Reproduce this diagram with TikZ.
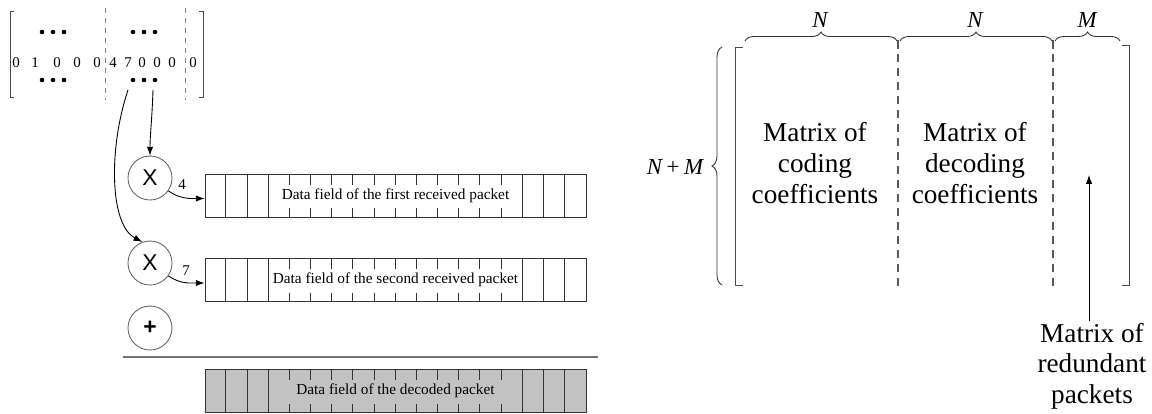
\documentclass[tikz,border=0pt]{standalone}
\usepackage{fontspec}
\setmainfont{Liberation Serif}
\newfontfamily\opfont{Liberation Sans}
\usetikzlibrary{arrows.meta,calc,decorations.pathreplacing}

\tikzset{
    op/.style={draw=black!60, circle, minimum size=0.88cm, inner sep=0pt,
        font=\opfont\fontsize{13}{15}\selectfont},
    packet/.style={draw=black!80, minimum width=7.62cm, minimum height=0.86cm,
        inner sep=0pt, font=\fontsize{8.7}{10}\selectfont},
    cell/.style={black!80},
    entry/.style={inner sep=0pt, font=\fontsize{8.5}{10}\selectfont},
    coef/.style={inner sep=0pt, font=\fontsize{8.5}{10}\selectfont},
    arr/.style={-{Latex[length=5pt,width=3.6pt]}},
    bracket/.style={black!70},
    sep/.style={black!65, line width=0.7pt, dash pattern=on 0.17cm off 0.11cm},
    brace/.style={black!80, decorate, decoration={brace, amplitude=#1}},
    lbl/.style={align=center, inner sep=1pt, font=\fontsize{15.5}{17.4}\selectfont},
    dim/.style={inner sep=0pt, font=\fontsize{13}{15}\selectfont\itshape}
}

\begin{document}
\begin{tikzpicture}[x=0.02cm, y=-0.02cm, line width=0.5pt]
    \useasboundingbox (0,0) rectangle (1152,413);

    % Coefficient row of the matrix
    \draw[bracket] (14,11) -- (10,11) -- (10,97) -- (14,97);
    \draw[bracket] (199,11) -- (203,11) -- (203,97) -- (199,97);
    \draw[black!50, dash pattern=on 0.1cm off 0.1cm] (105,8) -- (105,100);
    \draw[black!50, dash pattern=on 0.1cm off 0.1cm] (185,8) -- (185,100);
    \foreach \x/\d in {16/0,35/1,57/0,77/0,97/0,113/4,128/7,142/0,157/0,172/0,193/0} {
        \node[entry] (e\x) at (\x,63) {\d};
    }
    \foreach \cx in {53,144} {
        \foreach \cy in {32,80} {
            \foreach \k in {-11,0,11} {
                \fill (\cx+\k,\cy) circle (1.3pt);
            }
        }
    }

    % Multipliers and the adder
    \node[op] (mulA) at (150,178) {X};
    \node[op] (mulB) at (150,263) {X};
    \node[op] (add) at (150,328) {\textbf{+}};

    % Packets
    \node[packet] (first) at (395.5,195.5) {Data field of the first received packet};
    \node[packet] (second) at (395.5,280) {Data field of the second received packet};
    \node[packet, fill=gray!48] (decoded) at (395.5,391) {Data field of the decoded packet};
    \foreach \b in {first,second,decoded} {
        \foreach \i in {1,2,3,15,16,17} {
            \draw[cell] ($(\b.north west)+(\i*21.17,0)$) -- ($(\b.south west)+(\i*21.17,0)$);
        }
        \foreach \i in {4,...,14} {
            \draw[cell] ($(\b.north west)+(\i*21.17,0)$) -- ++(0,11);
            \draw[cell] ($(\b.south west)+(\i*21.17,0)$) -- ++(0,-9);
        }
    }

    % Coefficients picked from the row
    \coordinate (s7) at (128,90);
    \coordinate (s4) at (153,90);
    \draw[arr] (s4) .. controls (152,120) and (150,135) .. (mulA.north);
    \draw[arr] (s7) .. controls (108,150) and (110,225) .. (mulB.110);
    \draw[arr] (mulA.-35) to[out=-35,in=180] ($(first.west)+(0,3)$);
    \draw[arr] (mulB.-35) to[out=-35,in=180] ($(second.west)+(0,3)$);
    \node[coef] (k4) at (182,185) {4};
    \node[coef] (k7) at (186,271) {7};

    % Sum line
    \draw[black!55, line width=1pt] (123,357) -- (598,357);

    % Decoding matrix
    \draw[bracket] (743,47) -- (735,47) -- (735,285) -- (743,285);
    \draw[bracket] (1122,45) -- (1129,45) -- (1129,285) -- (1122,285);
    \draw[sep] (898,40) -- (898,287);
    \draw[sep] (1053,40) -- (1053,287);

    \draw[brace=0.2cm] (722,285) -- (722,47);
    \node[dim] (rows) at (675,167) {N\hspace{0.2em}\upshape+\hspace{0.2em}\itshape M};
    \draw[brace=0.18cm] (745,41) -- (897,41);
    \draw[brace=0.18cm] (900,41) -- (1052,41);
    \draw[brace=0.18cm] (1055,41) -- (1120,41);
    \node[dim] (colA) at (820,20) {N};
    \node[dim] (colB) at (975,20) {N};
    \node[dim] (colC) at (1087,20) {M};

    \node[lbl] (coding) at (815,163) {Matrix of\\coding\\coefficients};
    \node[lbl] (decoding) at (975,163) {Matrix of\\decoding\\coefficients};
    \node[lbl] (redund) at (1092,366) {Matrix of\\redundant\\packets};
    \coordinate (tip) at (1089,175);
    \draw[arr] (redund.north -| tip) -- (tip);
\end{tikzpicture}
\end{document}
